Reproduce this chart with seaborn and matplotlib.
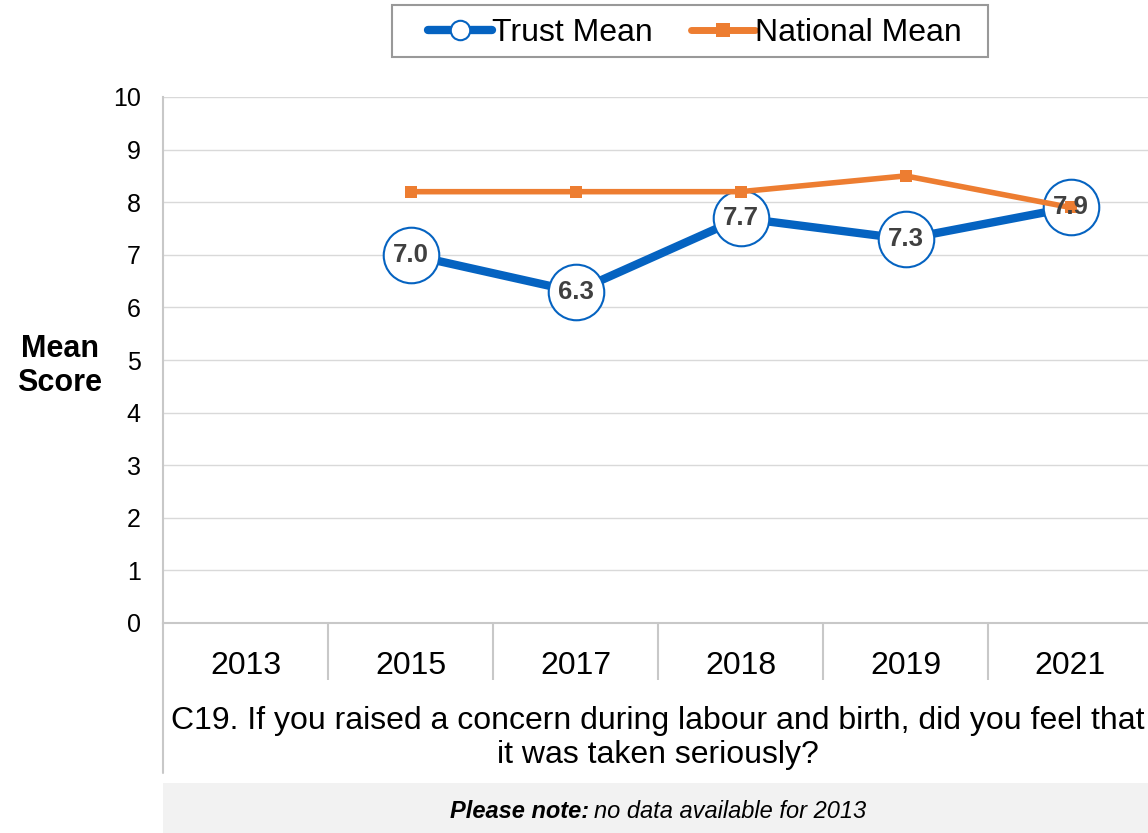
import pandas as pd
import matplotlib
matplotlib.use("Agg")
import matplotlib.pyplot as plt
import seaborn as sns
from matplotlib.lines import Line2D
from matplotlib.patches import Rectangle

# data
years = ["2013", "2015", "2017", "2018", "2019", "2021"]
trust_years = ["2015", "2017", "2018", "2019", "2021"]
trust_mean = [7.0, 6.3, 7.7, 7.3, 7.9]
national_mean = [8.2, 8.2, 8.2, 8.5, 7.9]
question = ("C19. If you raised a concern during labour and birth, did you feel that\n"
            "it was taken seriously?")

sns.set_style("white")
plt.rcParams["font.family"] = ["Liberation Sans", "DejaVu Sans"]
plt.rcParams["text.color"] = "black"
plt.rcParams["xtick.labelcolor"] = "black"
plt.rcParams["ytick.labelcolor"] = "black"

BLUE = "#0563c1"
ORANGE = "#ed7d31"
GRID = "#d9d9d9"
EDGE = "#c8c8c8"

df = pd.DataFrame({
    "pos": [years.index(y) for y in trust_years],
    "trust": trust_mean,
    "national": national_mean,
})

fig = plt.figure(figsize=(11.48, 8.33), dpi=100)
ax = fig.add_axes([163 / 1148, 1 - 623 / 833, 990 / 1148, 526 / 833])

sns.lineplot(data=df, x="pos", y="trust", ax=ax, color=BLUE, lw=6,
             marker="o", markersize=40, markerfacecolor="white",
             markeredgecolor=BLUE, markeredgewidth=1.5, zorder=3)
sns.lineplot(data=df, x="pos", y="national", ax=ax, color=ORANGE, lw=4,
             marker="s", markersize=9, markeredgewidth=0, zorder=4)

for x, v in zip(df["pos"], df["trust"]):
    ax.text(x, v, f"{v:.1f}", ha="center", va="center", fontsize=18.5,
            fontweight="bold", color="#404040", zorder=5)

ax.set_xlim(-0.5, 5.5)
ax.set_ylim(0, 10)
ax.set_yticks(range(0, 11))
ax.tick_params(axis="y", labelsize=18, length=0, pad=16, left=False)
ax.yaxis.grid(True, color=GRID, lw=1)
ax.set_axisbelow(True)

# category labels at centres, separators at boundaries
ax.set_xticks([i + 0.5 for i in range(len(years) - 1)])
ax.set_xticklabels([])
ax.tick_params(axis="x", which="major", bottom=True, direction="out",
               length=41, width=1.5, color=EDGE)
ax.set_xticks(range(len(years)), minor=True)
ax.set_xticklabels(years, minor=True)
ax.tick_params(axis="x", which="minor", bottom=True, length=0,
               labelsize=23, pad=20)
ax.set_xlabel("")
ax.set_ylabel("")

for s in ["top", "right"]:
    ax.spines[s].set_visible(False)
for s in ["left", "bottom"]:
    ax.spines[s].set_color(EDGE)
    ax.spines[s].set_linewidth(1.5)

# extended left line down to the question area
fig.add_artist(Line2D([163 / 1148, 163 / 1148], [1 - 623 / 833, 1 - 773 / 833],
                      color=EDGE, lw=1.5))

fig.text(60 / 1148, 1 - 366 / 833, "Mean\nScore", ha="center", va="center",
         fontsize=22, fontweight="bold", linespacing=1.2)

fig.text(658 / 1148, 1 - 738 / 833, question, ha="center", va="center",
         fontsize=23, linespacing=1.15)

fig.add_artist(Rectangle((163 / 1148, 0), 985 / 1148, 50 / 833,
                         facecolor="#f2f2f2", edgecolor="none"))
fig.text(589 / 1148, 1 - 812 / 833, "Please note:", ha="right", va="center",
         fontsize=17, fontweight="bold", style="italic")
fig.text(594 / 1148, 1 - 812 / 833, "no data available for 2013", ha="left",
         va="center", fontsize=17, style="italic")

handles = [
    Line2D([], [], color=BLUE, lw=6, marker="o", markersize=14,
           markerfacecolor="white", markeredgecolor=BLUE, markeredgewidth=1.5),
    Line2D([], [], color=ORANGE, lw=5, marker="s", markersize=10,
           markeredgewidth=0),
]
leg = fig.legend(handles, ["Trust Mean", "National Mean"], loc="center",
                 bbox_to_anchor=(695 / 1148, 1 - 33 / 833), ncol=2,
                 fontsize=23, frameon=False, handlelength=2.0,
                 handletextpad=0.0, columnspacing=1.2, borderpad=0.3)
# legend frame, wider than matplotlib's own padding
fig.add_artist(Rectangle((392 / 1148, 1 - 57 / 833), 596 / 1148, 52 / 833,
                         facecolor="none", edgecolor="#999999", lw=1.5))

fig.savefig("out.png", dpi=100)
